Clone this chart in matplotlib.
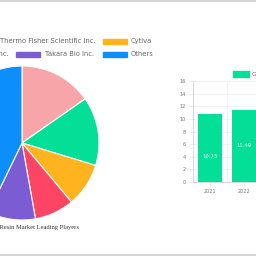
import matplotlib
matplotlib.use("Agg")
import matplotlib.pyplot as plt
from matplotlib.patches import Rectangle

# ---- data ----
players = ["Merck KGaA", "Thermo Fisher Scientific Inc.", "Cytiva",
           "Bio-Rad Laboratories Inc.", "Takara Bio Inc.", "Others"]
shares = [15.3, 14.4, 9.2, 8.3, 10.0, 42.8]
pie_colors = ["#F8A5A9", "#03DF97", "#FFB31F", "#FF4566", "#7B5CD3", "#0C8EFB"]

years = ["2021", "2022"]
market_size = [10.73, 11.49]
bar_color = "#03DF97"
bar_series = "Growth"
y_ticks = [0, 2, 4, 6, 8, 10, 12, 14, 16]
title = "Ion Exchange Resin Market Leading Players"

W = H = 256
fig = plt.figure(figsize=(2.56, 2.56), dpi=100)
fig.patch.set_facecolor("white")

def fx(px): return px / W
def fy(py): return 1 - py / H

# border lines
fig.add_artist(plt.Line2D([0, 1], [fy(0.5), fy(0.5)], color="#d6d6d6", lw=1.5))
fig.add_artist(plt.Line2D([0, 1], [fy(255), fy(255)], color="#d6d6d6", lw=1.5))

# ---- pie ----
cx, cy, r = 22, 143, 77
axp = fig.add_axes([fx(cx - r), fy(cy + r), 2 * r / W, 2 * r / H])
axp.pie(shares, colors=pie_colors, startangle=90, counterclock=False,
        wedgeprops=dict(edgecolor="white", linewidth=0.8))
axp.set_xlim(-1, 1); axp.set_ylim(-1, 1)
axp.set_aspect("equal")
axp.axis("off")

fig.text(fx(79), fy(227), title, ha="right", va="center", fontsize=4.7,
         family="Liberation Serif", color="#333333")

# ---- pie legend (manual, chart.js style) ----
row_of = [0, 0, 0, 1, 1, 1]
row_y = [41, 54]
box_x = [-230, -30, 103, -80, 16, 103]
text_pos = [(-205, "left"), (0, "left"), (131, "left"),
            (9, "right"), (45, "left"), (131, "left")]
for i, name in enumerate(players):
    yy = row_y[row_of[i]]
    fig.add_artist(Rectangle((fx(box_x[i]), fy(yy + 2.5)), 24 / W, 5 / H,
                             transform=fig.transFigure, color=pie_colors[i]))
    tx, ha = text_pos[i]
    fig.text(fx(tx), fy(yy), name, ha=ha, va="center",
             fontsize=4.85, color="#666666")

# ---- bar chart ----
x0, y0, unit, ppu = 193, 182, 34, 6.3
axb = fig.add_axes([fx(x0), fy(y0), 2 * unit / W, 16 * ppu / H])
xs = list(range(len(years)))
axb.bar(xs, market_size, width=0.72, color=bar_color)
axb.set_xlim(-0.5, len(years) - 0.5)
axb.set_ylim(0, 16)
axb.set_yticks(y_ticks)
axb.set_xticks(xs)
axb.set_xticklabels(years)
axb.tick_params(axis="both", labelsize=3.6, labelcolor="#777777",
                color="#e6e6e6", length=3, width=0.5, pad=2)
axb.grid(True, color="#ececec", lw=0.5)
axb.set_axisbelow(True)
for s in ["top", "right"]:
    axb.spines[s].set_visible(False)
axb.spines["left"].set_color("#d0d0d0"); axb.spines["left"].set_linewidth(0.6)
axb.spines["bottom"].set_color("#d0d0d0"); axb.spines["bottom"].set_linewidth(0.6)
for k in range(len(years)):
    axb.axvline(k + 0.5, color="#ececec", lw=0.5, zorder=0)
axb.xaxis.grid(False)

label_frac = [0.37, 0.5]
for xi, v, f in zip(xs, market_size, label_frac):
    axb.text(xi, v * f, f"{v:.2f}", ha="center", va="center", fontsize=3.8,
             color="white")

# bar legend
fig.add_artist(Rectangle((fx(233), fy(77)), 16 / W, 6 / H,
                         transform=fig.transFigure, color=bar_color))
fig.text(fx(251.5), fy(74), bar_series, ha="left", va="center", fontsize=4.6,
         color="#666666")

fig.savefig("out.png", dpi=100)
